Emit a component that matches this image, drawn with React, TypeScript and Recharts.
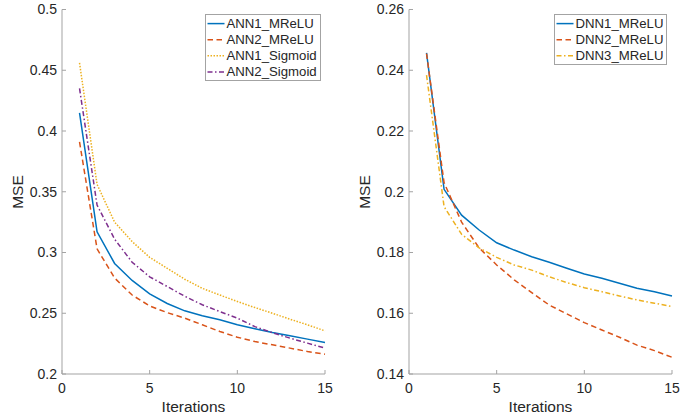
import React from 'react';
import { LineChart, Line, XAxis, YAxis, Legend } from 'recharts';

// ---- Data ----
const iterations = [1, 2, 3, 4, 5, 6, 7, 8, 9, 10, 11, 12, 13, 14, 15];

const ann1MReLU = [0.415, 0.317, 0.291, 0.277, 0.266, 0.258, 0.252, 0.248, 0.2446, 0.2405, 0.2372, 0.2341, 0.2314, 0.2287, 0.226];
const ann2MReLU = [0.391, 0.303, 0.279, 0.265, 0.256, 0.2505, 0.246, 0.2405, 0.235, 0.2303, 0.2267, 0.224, 0.2213, 0.2185, 0.2163];
const ann1Sigmoid = [0.456, 0.356, 0.325, 0.309, 0.296, 0.287, 0.278, 0.2705, 0.265, 0.2597, 0.2547, 0.25, 0.2451, 0.2405, 0.2355];
const ann2Sigmoid = [0.435, 0.339, 0.311, 0.292, 0.28, 0.272, 0.264, 0.257, 0.2514, 0.246, 0.239, 0.234, 0.2295, 0.2254, 0.2213];

const dnn1MReLU = [0.2457, 0.2008, 0.1923, 0.1874, 0.1832, 0.1808, 0.1786, 0.1768, 0.1748, 0.1729, 0.1715, 0.1699, 0.1682, 0.1671, 0.1657];
const dnn2MReLU = [0.2455, 0.203, 0.19, 0.1815, 0.1759, 0.171, 0.1668, 0.1627, 0.1598, 0.1569, 0.1545, 0.1521, 0.1495, 0.1477, 0.1455];
const dnn3MReLU = [0.2384, 0.1951, 0.186, 0.1815, 0.1784, 0.1759, 0.1742, 0.172, 0.1701, 0.1684, 0.1671, 0.1657, 0.1644, 0.1633, 0.1622];

const xTicks = [0, 5, 10, 15];
const leftYTicks = [0.2, 0.25, 0.3, 0.35, 0.4, 0.45, 0.5];
const rightYTicks = [0.14, 0.16, 0.18, 0.2, 0.22, 0.24, 0.26];

const leftSeries = [
  { key: 'ANN1_MReLU', values: ann1MReLU, color: '#0072BD', dash: undefined },
  { key: 'ANN2_MReLU', values: ann2MReLU, color: '#D95319', dash: '5.5 3.5' },
  { key: 'ANN1_Sigmoid', values: ann1Sigmoid, color: '#EDB120', dash: '1.5 1.5' },
  { key: 'ANN2_Sigmoid', values: ann2Sigmoid, color: '#7E2F8E', dash: '5 2.5 1.5 2.5' },
];
const rightSeries = [
  { key: 'DNN1_MReLU', values: dnn1MReLU, color: '#0072BD', dash: undefined },
  { key: 'DNN2_MReLU', values: dnn2MReLU, color: '#D95319', dash: '5.5 3.5' },
  { key: 'DNN3_MReLU', values: dnn3MReLU, color: '#EDB120', dash: '5 2.5 1.5 2.5' },
];

const AXIS = '#a3a3a3';
const TXT = '#262626';
const FONT = '"Liberation Sans", Arial, Helvetica, sans-serif';

type Series = { key: string; values: number[]; color: string; dash?: string };

function buildRows(series: Series[]) {
  return iterations.map((it, i) => {
    const row: Record<string, number> = { x: it };
    series.forEach((s) => {
      row[s.key] = s.values[i];
    });
    return row;
  });
}

function LegendBox({ series, width, height }: { series: Series[]; width: number; height: number }) {
  return (
    <div
      style={{
        width,
        height,
        boxSizing: 'border-box',
        border: `1px solid ${AXIS}`,
        background: '#fff',
        position: 'relative',
      }}
    >
      <svg width={width} height={height} style={{ position: 'absolute', left: -1, top: -1 }}>
        {series.map((s, i) => {
          const y = 9.6 + 16.1 * i;
          return (
            <g key={s.key}>
              <line x1={2.5} x2={19.5} y1={y} y2={y} stroke={s.color} strokeWidth={1.5} strokeDasharray={s.dash} />
              <text x={21.5} y={y} dominantBaseline="central" fontSize={13.2} fill={TXT} fontFamily={FONT}>
                {s.key}
              </text>
            </g>
          );
        })}
      </svg>
    </div>
  );
}

function Panel({
  series,
  yDomain,
  yTicks,
  legendLeft,
  legendWidth,
  legendHeight,
}: {
  series: Series[];
  yDomain: [number, number];
  yTicks: number[];
  legendLeft: number;
  legendWidth: number;
  legendHeight: number;
}) {
  const rows = buildRows(series);
  const emptyTick = () => <g />;
  return (
    <LineChart width={347} height={420} data={rows} margin={{ top: 9.5, right: 22, left: 12, bottom: 16 }}>
      <XAxis
        dataKey="x"
        type="number"
        domain={[0, 15]}
        ticks={xTicks}
        interval={0}
        height={30}
        stroke={AXIS}
        axisLine={{ stroke: AXIS }}
        tickLine={{ stroke: AXIS }}
        tickSize={-4}
        tickMargin={13}
        tick={{ fill: TXT, fontSize: 14, fontFamily: FONT }}
        label={{
          content: (p: any) => {
            const vb = p.viewBox || { x: 62, y: 374, width: 263 };
            return (
              <text
                x={vb.x + vb.width / 2}
                y={406.7}
                textAnchor="middle"
                dominantBaseline="central"
                fontSize={15.5}
                fill={TXT}
                fontFamily={FONT}
              >
                Iterations
              </text>
            );
          },
        }}
      />
      <XAxis
        xAxisId="top"
        dataKey="x"
        type="number"
        orientation="top"
        domain={[0, 15]}
        ticks={xTicks}
        interval={0}
        height={0}
        axisLine={{ stroke: AXIS }}
        tickLine={{ stroke: AXIS }}
        tickSize={-4}
        tick={emptyTick}
      />
      <YAxis
        type="number"
        domain={yDomain}
        ticks={yTicks}
        interval={0}
        width={50}
        axisLine={{ stroke: AXIS }}
        tickLine={{ stroke: AXIS }}
        tickSize={-4}
        tickMargin={9}
        tick={{ fill: TXT, fontSize: 14, fontFamily: FONT }}
        label={{
          content: () => (
            <text
              x={17.5}
              y={192}
              transform="rotate(-90 17.5 192)"
              textAnchor="middle"
              dominantBaseline="central"
              fontSize={15.5}
              fill={TXT}
              fontFamily={FONT}
            >
              MSE
            </text>
          ),
        }}
      />
      <YAxis
        yAxisId="right"
        orientation="right"
        type="number"
        domain={yDomain}
        ticks={yTicks}
        interval={0}
        width={0}
        axisLine={{ stroke: AXIS }}
        tickLine={{ stroke: AXIS }}
        tickSize={-4}
        tick={emptyTick}
      />
      {series.map((s) => (
        <Line
          key={s.key}
          type="linear"
          dataKey={s.key}
          name={s.key}
          stroke={s.color}
          strokeWidth={1.5}
          strokeDasharray={s.dash}
          dot={false}
          activeDot={false}
          isAnimationActive={false}
        />
      ))}
      <Legend
        layout="vertical"
        align="center"
        verticalAlign="middle"
        wrapperStyle={{ top: 14, left: legendLeft, width: legendWidth, height: legendHeight }}
        content={() => <LegendBox series={series} width={legendWidth} height={legendHeight} />}
      />
    </LineChart>
  );
}

export default function App() {
  return (
    <div
      style={{
        position: 'absolute',
        left: 0,
        top: 0,
        width: 694,
        height: 420,
        background: '#fff',
        fontFamily: FONT,
      }}
    >
      <div style={{ position: 'absolute', left: 0, top: 0 }}>
        <Panel
          series={leftSeries}
          yDomain={[0.2, 0.5]}
          yTicks={leftYTicks}
          legendLeft={204.7}
          legendWidth={116.5}
          legendHeight={66.5}
        />
      </div>
      <div style={{ position: 'absolute', left: 347, top: 0 }}>
        <Panel
          series={rightSeries}
          yDomain={[0.14, 0.26]}
          yTicks={rightYTicks}
          legendLeft={207.3}
          legendWidth={113}
          legendHeight={50.5}
        />
      </div>
    </div>
  );
}
